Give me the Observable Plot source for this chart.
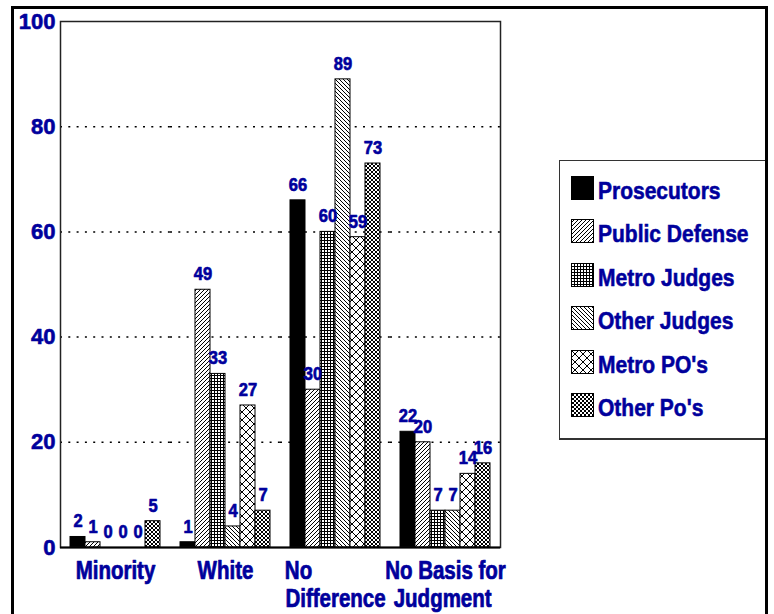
<!DOCTYPE html>
<html>
<head>
<meta charset="utf-8">
<script src="https://cdn.jsdelivr.net/npm/d3@7"></script>
<script src="https://cdn.jsdelivr.net/npm/@observablehq/plot@0.6"></script>
<style>
  body { margin: 0; background: #fff; }
  #wrap { position: relative; width: 774px; height: 614px; overflow: hidden; background: #fff;
          font-family: "Liberation Sans", Arial, sans-serif; }
  #chart { position: absolute; left: 0; top: 0; }
  #chart svg g[aria-label$="tick label"] text, #chart svg g[aria-label="text"] text {
    stroke: #00009c; stroke-width: 0.6px; stroke-linejoin: round; }
  #outer { position: absolute; left: 11px; top: 6px; width: 751px; height: 700px; border: 3px solid #000; }
  #legend { position: absolute; left: 559px; top: 160px; width: 207px; height: 280px; box-sizing: border-box;
            border: 1px solid #333; border-bottom-width: 2px; background: #fff; }
  #legend .row { position: absolute; left: 11px; height: 24px; width: 190px; }
  #legend .row svg { position: absolute; left: 0; top: 0; }
  #legend .row span { position: absolute; left: 27px; top: 5px; font-size: 21px; line-height: 21px;
            font-weight: bold; color: #00009c; white-space: nowrap; -webkit-text-stroke: 0.5px #00009c;
            transform-origin: 0 17.8px; transform: scaleY(1.15); }
</style>
</head>
<body>
<svg width="0" height="0" style="position:absolute">
  <defs>
    <pattern id="pPD" patternUnits="userSpaceOnUse" width="4" height="4">
      <rect width="4" height="4" fill="#fff"/>
      <path d="M-1,1 L1,-1 M0,4 L4,0 M3,5 L5,3" stroke="#000" stroke-width="1" shape-rendering="crispEdges"/>
    </pattern>
    <pattern id="pMJ" patternUnits="userSpaceOnUse" width="3" height="3">
      <rect width="3" height="3" fill="#fff"/>
      <path d="M0,0.5 H3 M0.5,0 V3" stroke="#000" stroke-width="1"/>
    </pattern>
    <pattern id="pOJ" patternUnits="userSpaceOnUse" width="4" height="4">
      <rect width="4" height="4" fill="#fff"/>
      <path d="M-1,3 L1,5 M0,0 L4,4 M3,-1 L5,1" stroke="#000" stroke-width="1" shape-rendering="crispEdges"/>
    </pattern>
    <pattern id="pMP" patternUnits="userSpaceOnUse" width="8" height="8">
      <rect width="8" height="8" fill="#fff"/>
      <path d="M0,0 L8,8 M8,0 L0,8" stroke="#000" stroke-width="1" shape-rendering="crispEdges"/>
    </pattern>
    <pattern id="pOP" patternUnits="userSpaceOnUse" width="4" height="4">
      <rect width="4" height="4" fill="#fff"/>
      <path d="M0,0 L4,4 M4,0 L0,4" stroke="#000" stroke-width="1" shape-rendering="crispEdges"/>
    </pattern>
  </defs>
</svg>
<div id="wrap">
  <div id="chart"></div>
  <div id="legend"></div>
  <div id="outer"></div>
</div>
<script>
// ---- data ----
const groups = ["Minority", "White", "No Difference", "No Basis for Judgment"];
const groupLabels = ["Minority", "White", "No" + "\u00a0".repeat(13) + "\nDifference", "No Basis for\nJudgment\u00a0"];
const series = ["Prosecutors", "Public Defense", "Metro Judges", "Other Judges", "Metro PO's", "Other Po's"];
const prosecutors   = [2, 1, 66, 22];
const publicDefense = [1, 49, 30, 20];
const metroJudges   = [0, 33, 60, 7];
const otherJudges   = [0, 4, 89, 7];
const metroPOs      = [0, 27, 59, 14];
const otherPos      = [5, 7, 73, 16];
const yTicks = [0, 20, 40, 60, 80, 100];
const gridTicks = [20, 40, 60, 80];

const seriesValues = [prosecutors, publicDefense, metroJudges, otherJudges, metroPOs, otherPos];
const fills = ["#000", "url(#pPD)", "url(#pMJ)", "url(#pOJ)", "url(#pMP)", "url(#pOP)"];
const blue = "#00009c";

const data = groups.flatMap((g, i) => series.map((s, j) => ({group: g, series: s, value: seriesValues[j][i]})));

const chart = Plot.plot({
  width: 520,
  height: 614,
  marginLeft: 60,
  marginRight: 19,
  marginTop: 21,
  marginBottom: 67,
  style: {fontFamily: "'Liberation Sans', Arial, sans-serif", fontWeight: "bold", background: "transparent", overflow: "visible"},
  fx: {domain: groups, paddingInner: 0.145, paddingOuter: 0.0725, label: null},
  x: {domain: series, padding: 0, axis: null},
  y: {domain: [0, 100], label: null},
  color: {domain: series, range: fills},
  marks: [
    Plot.ruleY(gridTicks, {stroke: "#000", strokeWidth: 1.5, strokeDasharray: "2,6.3", insetLeft: -8, insetRight: -8}),
    Plot.barY(data, {fx: "group", x: "series", y: "value", fill: "series", stroke: "#000", strokeWidth: 1}),
    Plot.text(data, {fx: "group", x: "series", y: "value", text: d => String(d.value), dy: -9.5, lineAnchor: "bottom",
                     fontSize: 16.5, fontWeight: "bold", fill: blue}),
    Plot.frame({facet: "super", stroke: "#222", strokeWidth: 1.5, insetLeft: -8, insetRight: -8}),
    Plot.ruleY([0], {stroke: "#000", strokeWidth: 2, insetLeft: -8, insetRight: -8}),
    Plot.axisY({ticks: yTicks, tickSize: 0, tickPadding: 13, fontSize: 22, color: blue, label: null}),
    Plot.axisFx({anchor: "bottom", tickSize: 0, tickPadding: 12, fontSize: 20.5, lineHeight: 1.1, color: blue, label: null,
                 tickFormat: d => groupLabels[groups.indexOf(d)]})
  ]
});
document.getElementById("chart").appendChild(chart);

// taller lettering, as in the reference (stretch each text vertically about its own anchor)
function stretch(selector, k) {
  chart.querySelectorAll(selector).forEach(t => {
    const tr = t.getAttribute("transform");
    if (tr) {
      t.setAttribute("transform", tr + ` scale(1,${k})`);
    } else {
      const x = t.getAttribute("x") || 0, y = t.getAttribute("y") || 0;
      t.removeAttribute("x"); t.removeAttribute("y");
      t.setAttribute("transform", `translate(${x},${y}) scale(1,${k})`);
    }
  });
}
stretch('g[aria-label="fx-axis tick label"] text', 1.24);
stretch('g[aria-label="text"] text', 1.06);

// ---- legend ----
const colorScale = chart.scale("color");
const legend = document.getElementById("legend");
series.forEach((s, i) => {
  const row = document.createElement("div");
  row.className = "row";
  row.style.top = (15 + i * 43.4) + "px";
  row.innerHTML = `<svg width="23" height="24"><rect x="0.5" y="0.5" width="22" height="23" fill="${colorScale.apply(s)}" stroke="#000"/></svg><span></span>`;
  row.querySelector("span").textContent = s;
  legend.appendChild(row);
});
</script>
</body>
</html>
